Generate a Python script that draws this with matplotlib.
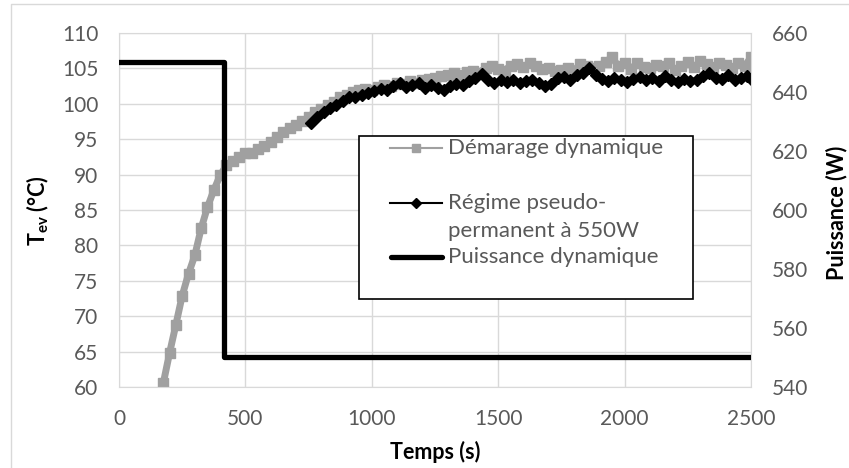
import matplotlib
matplotlib.use("Agg")
import matplotlib.pyplot as plt
from matplotlib.lines import Line2D
from matplotlib.patches import Rectangle

plt.rcParams['font.family'] = ['Lato', 'DejaVu Sans']
plt.rcParams['mathtext.fontset'] = 'custom'
plt.rcParams['mathtext.rm'] = 'Lato'
plt.rcParams['mathtext.bf'] = 'Lato:bold'

# demarrage dynamique (gray squares)
t_dem = [175, 200, 225, 250, 275, 300, 325, 350, 375, 400, 425, 450, 475, 500,
         525, 550, 575, 600, 625, 650, 675, 700, 725, 750, 775, 800, 825, 850,
         875, 900, 925, 950, 975, 1000, 1025, 1050, 1075, 1100, 1125, 1150,
         1175, 1200, 1225, 1250, 1275, 1300, 1325, 1350, 1375, 1400, 1425,
         1450, 1475, 1500, 1525, 1550, 1575, 1600, 1625, 1650, 1675, 1700,
         1725, 1750, 1775, 1800, 1825, 1850, 1875, 1900, 1925, 1950, 1975,
         2000, 2025, 2050, 2075, 2100, 2125, 2150, 2175, 2200, 2225, 2250,
         2275, 2300, 2325, 2350, 2375, 2400, 2425, 2450, 2475, 2500]
T_dem = [60.5, 64.8, 68.8, 72.9, 76.0, 78.6, 82.4, 85.4, 87.8, 89.9, 91.3,
         91.9, 92.5, 93.0, 93.1, 93.6, 94.0, 94.6, 95.3, 96.0, 96.6, 97.0,
         97.6, 98.1, 98.9, 99.3, 99.9, 100.3, 100.9, 101.2, 101.6, 101.9,
         102.1, 102.0, 102.4, 102.7, 102.5, 103.0, 102.8, 103.2, 103.0, 103.3,
         103.5, 103.6, 103.9, 104.0, 104.3, 104.1, 104.5, 104.7, 104.4, 105.1,
         105.3, 104.9, 104.7, 105.4, 105.6, 105.2, 105.8, 105.3, 104.9, 105.0,
         104.6, 104.8, 105.1, 104.7, 105.6, 105.3, 105.0, 105.4, 105.9, 106.6,
         105.3, 105.7, 104.9, 105.8, 105.2, 105.0, 105.5, 105.3, 105.7, 104.8,
         105.4, 105.9, 105.2, 106.0, 105.6, 105.2, 105.8, 105.5, 105.1, 105.7,
         105.3, 106.6]

# regime pseudo-permanent (black diamonds)
t_reg = [760, 785, 810, 835, 860, 885, 910, 935, 960, 985, 1010, 1035, 1060,
         1085, 1110, 1135, 1160, 1185, 1210, 1235, 1260, 1285, 1310, 1335,
         1360, 1385, 1410, 1435, 1460, 1485, 1510, 1535, 1560, 1585, 1610,
         1635, 1660, 1685, 1710, 1735, 1760, 1785, 1810, 1835, 1860, 1885,
         1910, 1935, 1960, 1985, 2010, 2035, 2060, 2085, 2110, 2135, 2160,
         2185, 2210, 2235, 2260, 2285, 2310, 2335, 2360, 2385, 2410, 2435,
         2460, 2485, 2500]
T_reg = [97.3, 98.2, 98.8, 99.4, 99.8, 100.4, 100.9, 101.0, 101.3, 101.5,
         101.8, 102.1, 102.0, 102.5, 103.0, 102.4, 102.6, 102.9, 102.3, 102.6,
         102.3, 101.9, 102.5, 102.8, 102.6, 103.2, 103.7, 104.2, 103.4, 103.0,
         103.3, 103.1, 103.4, 102.9, 103.2, 103.4, 102.9, 102.5, 102.8, 103.6,
         103.8, 103.4, 104.0, 104.3, 105.0, 104.1, 103.5, 103.2, 103.6, 103.3,
         103.1, 103.5, 103.8, 103.4, 103.7, 103.2, 103.9, 103.3, 103.1, 103.5,
         103.2, 103.4, 103.9, 104.4, 103.7, 103.5, 104.1, 103.3, 103.6, 103.9,
         103.5]

# puissance dynamique
t_pow = [0, 415, 415, 2500]
P_pow = [650, 650, 550, 550]

gray = '#a0a0a0'
txt = '#595959'
grid = '#d9d9d9'

W, H = 849, 468
fig = plt.figure(figsize=(W / 100, H / 100), dpi=100)
ax = fig.add_axes([119 / W, 1 - 387 / H, (751 - 119) / W, (387 - 33) / H])

ax.plot(t_dem, T_dem, color=gray, lw=5, marker='s', ms=7, mec=gray, mfc=gray)
ax.plot(t_reg, T_reg, color='black', lw=4, marker='D', ms=6.5)

ax.set_xlim(0, 2500)
ax.set_ylim(60, 110)
ax.set_xticks(range(0, 2501, 500))
ax.set_yticks(range(60, 111, 5))
ax.grid(True, color=grid, lw=1)
ax.set_axisbelow(True)
for s in ax.spines.values():
    s.set_color(grid)
ax.tick_params(length=0, labelsize=15, labelcolor=txt)
ax.tick_params(axis='y', pad=15)
ax.tick_params(axis='x', pad=16)

ax2 = ax.twinx()
ax2.plot(t_pow, P_pow, color='black', lw=3.8)
ax2.set_ylim(540, 660)
ax2.set_yticks(range(540, 661, 20))
for s in ax2.spines.values():
    s.set_visible(False)
ax2.tick_params(length=0, labelsize=15, labelcolor=txt, pad=15)

fig.text(435 / W, 1 - 452 / H, 'Temps (s)', fontsize=15.5, fontweight='bold',
         ha='center', va='center')
fig.text(38 / W, 1 - 211 / H, r'$\mathbf{T_{ev}}$ (°C)', fontsize=15.5,
         fontweight='bold', rotation=90, ha='center', va='center')
fig.text(837 / W, 1 - 213 / H, 'Puissance (W)', fontsize=15.5, fontweight='bold',
         rotation=90, ha='center', va='center')

# legend, drawn by hand to follow the original layout
def fx(x):
    return x / W

def fy(y):
    return 1 - y / H

fig.patches.append(Rectangle((fx(359), fy(299)), fx(693) - fx(359), fy(136) - fy(299),
                             transform=fig.transFigure, fill=True, fc='white',
                             ec='black', lw=1.2, zorder=5))
fig.lines.append(Line2D([fx(390), fx(442)], [fy(148)] * 2, transform=fig.transFigure,
                        color=gray, lw=1.5, zorder=6))
fig.lines.append(Line2D([fx(416)], [fy(148)], transform=fig.transFigure, color=gray,
                        marker='s', ms=6, zorder=6))
fig.lines.append(Line2D([fx(390), fx(442)], [fy(203)] * 2, transform=fig.transFigure,
                        color='black', lw=1.5, zorder=6))
fig.lines.append(Line2D([fx(416)], [fy(203)], transform=fig.transFigure, color='black',
                        marker='D', ms=5, zorder=6))
fig.lines.append(Line2D([fx(391), fx(442)], [fy(257)] * 2, transform=fig.transFigure,
                        color='black', lw=3.8, solid_capstyle='round', zorder=6))
for label, y in [('Démarage dynamique', 148), ('Régime pseudo-', 203),
                 ('permanent à 550W', 231), ('Puissance dynamique', 257)]:
    fig.text(fx(448), fy(y), label, fontsize=16, color=txt, ha='left',
             va='center', zorder=7)

# outer chart frame (left and top edges visible)
fig.lines.append(Line2D([fx(11), fx(11), fx(849)], [0, fy(4), fy(4)],
                        transform=fig.transFigure, color=grid, lw=1))

fig.savefig('out.png', dpi=100)
